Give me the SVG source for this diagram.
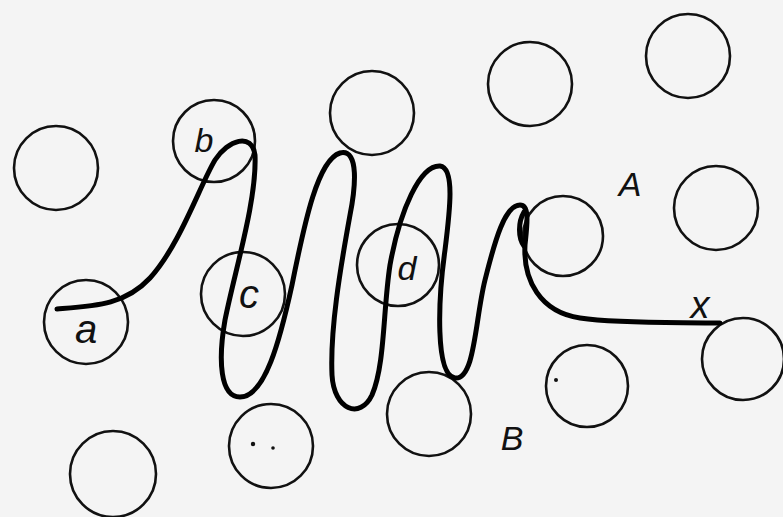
<svg xmlns="http://www.w3.org/2000/svg" width="783" height="517" viewBox="0 0 783 517">
<style>
.m{fill:none;stroke:#111;stroke-width:2.6}
.lbl{font-family:"Liberation Sans",Arial,sans-serif;font-style:italic;fill:#111;text-anchor:middle}
.chain{fill:none;stroke:#000;stroke-width:5;stroke-linecap:round;stroke-linejoin:round}
</style>
<rect width="783" height="517" fill="#f4f4f4"/>
<g id="m1"><circle class="m" cx="56" cy="168" r="42"/></g>
<g id="mb"><circle class="m" cx="214" cy="141" r="41"/><text class="lbl" x="204" y="152" font-size="34">b</text></g>
<g id="ma"><circle class="m" cx="86" cy="322" r="42"/><text class="lbl" x="86" y="343" font-size="40">a</text></g>
<g id="mc"><circle class="m" cx="243" cy="294" r="42"/><text class="lbl" x="249" y="308" font-size="40">c</text></g>
<g id="m2"><circle class="m" cx="372" cy="113" r="42"/></g>
<g id="m3"><circle class="m" cx="530" cy="84" r="42"/></g>
<g id="m4"><circle class="m" cx="688" cy="56" r="42"/></g>
<g id="md"><circle class="m" cx="398" cy="265" r="41"/><text class="lbl" x="407" y="280" font-size="34">d</text></g>
<g id="mA"><circle class="m" cx="563" cy="236" r="40"/></g>
<g id="m5"><circle class="m" cx="716" cy="208" r="42"/></g>
<g id="mx"><circle class="m" cx="743" cy="359" r="41"/></g>
<g id="m6"><circle class="m" cx="587" cy="386" r="41"/><circle cx="556" cy="380" r="2" fill="#111"/></g>
<g id="mB"><circle class="m" cx="429" cy="414" r="42"/></g>
<g id="m7"><circle class="m" cx="113" cy="474" r="43"/></g>
<g id="m8"><circle class="m" cx="271" cy="446" r="42"/><circle cx="253" cy="444" r="2.2" fill="#111"/><circle cx="273" cy="448" r="1.8" fill="#111"/></g>
<g id="labels">
<text class="lbl" x="630" y="196" font-size="34">A</text>
<text class="lbl" x="512" y="450" font-size="34">B</text>
<text class="lbl" x="700" y="318" font-size="38">x</text>
</g>
<g id="connectors">
<path class="chain" d="M57,309 C95,306 125,305 150,278 C180,245 200,185 215,160 C228,140 252,132 255,155 C257,200 235,270 225,320 C218,360 220,397 240,397 C265,397 280,340 292,285 C305,220 318,160 340,153 C360,148 355,190 350,215 C340,270 330,330 332,375 C334,410 360,420 372,395 C385,365 383,310 390,265 C400,210 420,165 440,166 C455,168 450,210 445,250 C438,300 435,375 455,378 C475,380 475,320 485,280 C495,240 505,205 520,205 C530,205 527,225 525,245 C523,280 540,312 580,318 C620,324 680,322 720,323"/>
<path class="chain" stroke-width="3" d="M524,212 C518,222 518,238 524,246"/>
</g>
</svg>
